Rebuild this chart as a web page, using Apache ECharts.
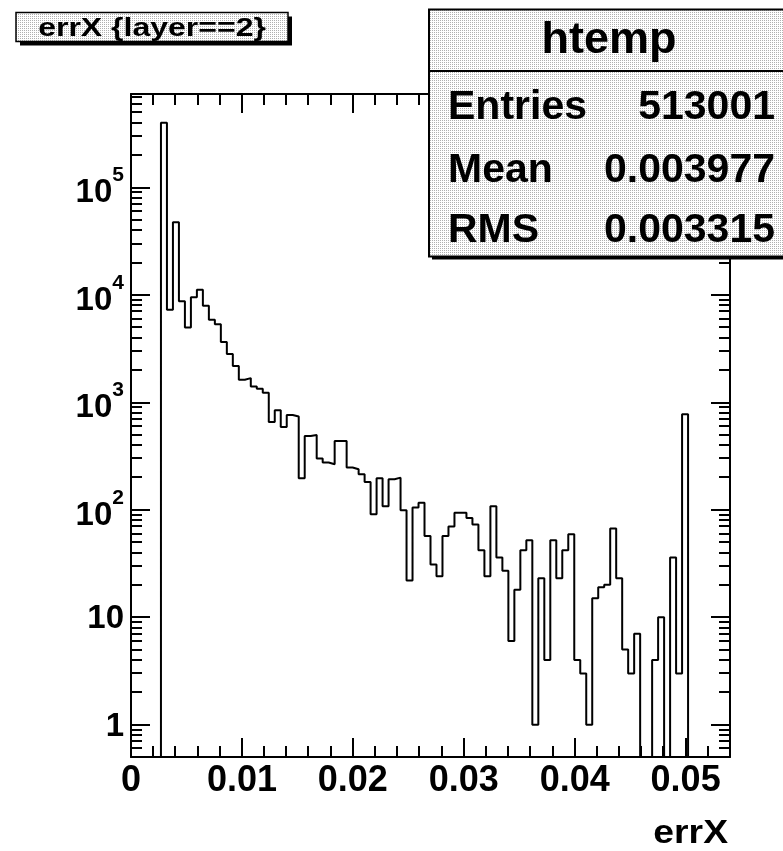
<!DOCTYPE html>
<html><head><meta charset="utf-8">
<script src="https://cdn.jsdelivr.net/npm/echarts@6/dist/echarts.min.js"></script>
<style>html,body{margin:0;padding:0;background:#fff}#c{width:783px;height:851px}</style>
</head><body><div id="c"></div>
<script>
// ---- data ----
const xMin = 0, xMax = 0.054, nBins = 100;
const yMin = 0.5, yMax = 7.4e5;
const binCounts = [0,0,0,0,0,
  400000, 7260, 47400, 8700, 4980, 9480, 11160, 7920, 5860, 5340,
  3650, 2810, 2180, 1620, 1680, 1400, 1340, 1230, 656, 844,
  590, 763, 738, 196, 486, 497, 300, 275, 265, 437,
  437, 247, 238, 214, 181, 91, 196, 108, 192, 199,
  99, 22, 105, 116, 57, 31, 24, 57, 70, 94,
  94, 84, 73, 42, 24, 108, 36, 27, 6, 18,
  42, 52, 1, 23, 4, 52, 23, 42, 59, 4,
  3, 1, 15, 19, 20, 67, 23, 5, 3, 7,
  0, 0, 4, 10, 0, 36, 3, 775,
  0,0,0,0,0,0,0];
const xTickValues = [0, 0.01, 0.02, 0.03, 0.04, 0.05];
const xTickLabels = ['0', '0.01', '0.02', '0.03', '0.04', '0.05'];
const xMinorTicks = [0.002,0.004,0.006,0.008,0.012,0.014,0.016,0.018,0.022,0.024,0.026,0.028,
  0.032,0.034,0.036,0.038,0.042,0.044,0.046,0.048,0.052];
const yTickValues = [1, 10, 100, 1000, 10000, 100000];
const yTickLabels = ['{q|\u200b}{b|1}', '{q|\u200b}{b|10}',
  '{p|\u200b}{e|10}{s|2}', '{p|\u200b}{e|10}{s|3}', '{p|\u200b}{e|10}{s|4}', '{p|\u200b}{e|10}{s|5}'];
const yMinorMultipliers = [2,3,4,5,6,7,8,9];
const yDecades = [0.1, 1, 10, 100, 1000, 10000, 100000];
const statsTitle = 'htemp';
const statsNames = ['Entries', 'Mean', 'RMS'];
const statsValues = ['513001', '0.003977', '0.003315'];
const histTitle = 'errX {layer==2}';
const xTitle = 'errX';

// ---- build ----
const FF = '"Liberation Sans", Arial, Helvetica, sans-serif';
const binW = (xMax - xMin) / nBins;
const histData = [];
for (let i = 0; i < nBins; i++) histData.push([xMin + i * binW, Math.max(binCounts[i], yMin)]);
histData.push([xMax, Math.max(binCounts[nBins - 1], yMin)]);

const minorData = [];
xMinorTicks.forEach(v => minorData.push([v, 1, 0]));
yDecades.forEach(d => yMinorMultipliers.forEach(m => {
  const v = m * d;
  if (v > yMin && v < yMax) minorData.push([xMin, v, 1]);
}));

function makePattern() {
  const c = document.createElement('canvas');
  c.width = 2; c.height = 2;
  const g = c.getContext('2d');
  g.fillStyle = '#ffffff'; g.fillRect(0, 0, 2, 2);
  g.fillStyle = '#b0b0b0'; g.fillRect(0, 0, 1, 1);
  return c;
}
const pat = { image: makePattern(), repeat: 'repeat' };

const G = { left: 131, top: 94, width: 599, height: 663 };
const axLine = { show: true, onZero: false, lineStyle: { color: '#000', width: 2 } };
const axTick = { show: true, inside: true, length: 19, lineStyle: { color: '#000', width: 2 } };

function xFmt(v) {
  const i = xTickValues.findIndex(t => Math.abs(t - v) < 1e-9);
  return i >= 0 ? xTickLabels[i] : '';
}
function yFmt(v) {
  const i = yTickValues.findIndex(t => Math.abs(Math.log10(t) - Math.log10(v)) < 1e-6);
  return i >= 0 ? yTickLabels[i] : '';
}

function txt(x, y, text, size, align, sx) {
  return { type: 'text', x: x, y: y, scaleX: sx || 1, z: 110,
    style: { text: text, x: 0, y: 0, font: 'bold ' + size + 'px ' + FF, fill: '#000',
      align: align, textAlign: align, verticalAlign: 'middle', textVerticalAlign: 'middle' } };
}

const richBase = { fontWeight: 'bold', fontFamily: FF, color: '#000' };
const option = {
  backgroundColor: '#fff',
  animation: false,
  grid: { left: G.left, top: G.top, width: G.width, height: G.height, containLabel: false },
  xAxis: [
    { type: 'value', position: 'bottom', min: xMin, max: xMax, interval: 0.01,
      axisLine: axLine, axisTick: axTick, splitLine: { show: false }, minorTick: { show: false },
      axisLabel: { show: true, margin: 6, fontSize: 36, fontWeight: 'bold', fontFamily: FF, color: '#000',
        formatter: xFmt, showMinLabel: true, showMaxLabel: false } },
    { type: 'value', position: 'top', min: xMin, max: xMax, interval: 0.01,
      axisLine: axLine, axisTick: axTick, splitLine: { show: false }, axisLabel: { show: false } }
  ],
  yAxis: [
    { type: 'log', logBase: 10, position: 'left', min: yMin, max: yMax,
      axisLine: axLine, axisTick: axTick, splitLine: { show: false }, minorTick: { show: false },
      axisLabel: { show: true, margin: 7, color: '#000', formatter: yFmt, showMinLabel: false, showMaxLabel: false,
        rich: {
          q: Object.assign({ fontSize: 2, lineHeight: 37 }, richBase),
          p: Object.assign({ fontSize: 2, lineHeight: 45 }, richBase),
          b: Object.assign({ fontSize: 33, lineHeight: 33, verticalAlign: 'bottom' }, richBase),
          e: Object.assign({ fontSize: 33, lineHeight: 33, verticalAlign: 'bottom' }, richBase),
          s: Object.assign({ fontSize: 21, lineHeight: 40, verticalAlign: 'top' }, richBase)
        } } },
    { type: 'log', logBase: 10, position: 'right', min: yMin, max: yMax,
      axisLine: axLine, axisTick: axTick, splitLine: { show: false }, axisLabel: { show: false } }
  ],
  series: [
    { type: 'line', name: 'htemp', xAxisIndex: 0, yAxisIndex: 0, data: histData, step: 'end',
      showSymbol: false, symbol: 'none', clip: true, z: 5,
      lineStyle: { color: '#000', width: 2 } },
    { type: 'custom', xAxisIndex: 0, yAxisIndex: 0, data: minorData, encode: { x: 0, y: 1 }, silent: true, z: 4,
      renderItem: function (params, api) {
        const cs = params.coordSys;
        const kind = api.value(2);
        const st = { stroke: '#000', lineWidth: 2 };
        if (kind === 0) {
          const px = Math.round(api.coord([api.value(0), 1])[0]);
          return { type: 'group', children: [
            { type: 'line', shape: { x1: px, y1: cs.y + cs.height, x2: px, y2: cs.y + cs.height - 11 }, style: st },
            { type: 'line', shape: { x1: px, y1: cs.y, x2: px, y2: cs.y + 11 }, style: st } ] };
        }
        const py = Math.round(api.coord([xMin, api.value(1)])[1]);
        return { type: 'group', children: [
          { type: 'line', shape: { x1: cs.x, y1: py, x2: cs.x + 11, y2: py }, style: st },
          { type: 'line', shape: { x1: cs.x + cs.width - 11, y1: py, x2: cs.x + cs.width, y2: py }, style: st } ] };
      } }
  ],
  graphic: [
    // title box
    { type: 'rect', z: 100, shape: { x: 20, y: 16.5, width: 272, height: 29 }, style: { fill: '#000' } },
    { type: 'rect', z: 101, shape: { x: 16, y: 12.5, width: 272, height: 29 }, style: { fill: pat, stroke: '#000', lineWidth: 1.5 } },
    txt(152, 29, histTitle, 25, 'center', 1.28),
    // stats box
    { type: 'rect', z: 100, shape: { x: 432, y: 12.5, width: 360, height: 247 }, style: { fill: '#000' } },
    { type: 'rect', z: 101, shape: { x: 429, y: 9.5, width: 360, height: 247 }, style: { fill: pat, stroke: '#000', lineWidth: 2 } },
    { type: 'line', z: 102, shape: { x1: 429, y1: 71, x2: 789, y2: 71 }, style: { stroke: '#000', lineWidth: 2 } },
    txt(609, 41, statsTitle, 45, 'center', 1),
    txt(448, 108, statsNames[0], 41, 'left', 1),
    txt(775, 108, statsValues[0], 41, 'right', 1),
    txt(448, 170.5, statsNames[1], 41, 'left', 1),
    txt(775, 170.5, statsValues[1], 41, 'right', 1),
    txt(448, 231, statsNames[2], 41, 'left', 1),
    txt(775, 231, statsValues[2], 41, 'right', 1),
    // x axis title
    txt(728, 833.5, xTitle, 33, 'right', 1.13)
  ]
};
const chart = echarts.init(document.getElementById('c'));
chart.setOption(option);
</script>
</body></html>
